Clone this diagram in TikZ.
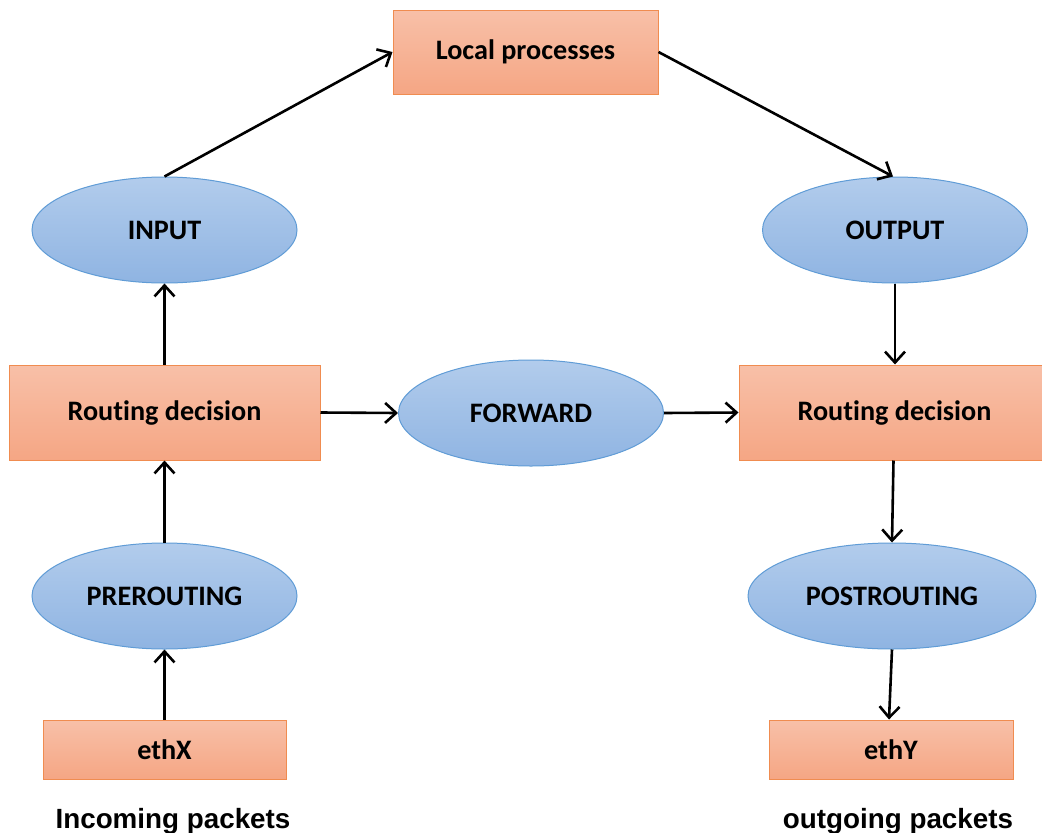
\documentclass[tikz,border=0pt]{standalone}
\usepackage{fontspec}
\setmainfont{Carlito}[Ligatures=NoCommon]
\newfontfamily\arialfont{Liberation Sans}
\usetikzlibrary{shapes.geometric,arrows.meta}
\definecolor{rtop}{RGB}{248,192,168}
\definecolor{rbot}{RGB}{245,166,132}
\definecolor{rborder}{RGB}{240,140,80}
\definecolor{etop}{RGB}{178,204,236}
\definecolor{ebot}{RGB}{143,180,226}
\definecolor{eborder}{RGB}{96,156,214}
\begin{document}
\begin{tikzpicture}[x=1pt,y=-1pt,
  boxnode/.style={rectangle, draw=rborder, line width=1pt, top color=rtop, bottom color=rbot,
    font=\fontsize{28.2}{30}\selectfont\bfseries, inner sep=0pt, text=black},
  ellnode/.style={ellipse, draw=eborder, line width=1pt, top color=etop, bottom color=ebot,
    inner sep=0pt, minimum width=265pt, minimum height=106pt,
    font=\fontsize{28.2}{30}\selectfont\bfseries, text=black},
  caption/.style={font=\arialfont\fontsize{27.8}{30}\selectfont\bfseries, anchor=base, inner sep=0pt},
  arr/.style={-{Straight Barb[length=11pt,width=20pt,line width=2.6pt]}, line width=2.6pt}]
\useasboundingbox (0,0) rectangle (1042,833);
\clip (0,0) rectangle (1042,833);
\fill[white] (0,0) rectangle (1042,833);

\node[boxnode, minimum width=265pt, minimum height=84pt] (lp) at (525.5,52) {Local processes};
\node[ellnode] (in) at (164.5,230) {INPUT};
\node[ellnode] (out) at (895,230) {OUTPUT};
\node[boxnode, minimum width=311pt, minimum height=95pt] (rl) at (164.5,412.5) {Routing decision};
\node[ellnode] (fw) at (531,413) {FORWARD};
\node[boxnode, minimum width=311pt, minimum height=95pt] (rr) at (894.5,412.5) {Routing decision};
\node[ellnode] (pre) at (164.5,596) {PREROUTING};
\node[ellnode, minimum width=288pt] (post) at (892,596) {POSTROUTING};
\node[boxnode, minimum width=243pt, minimum height=59pt] (ex) at (164.5,749.5) {ethX};
\node[boxnode, minimum width=244pt, minimum height=59pt] (ey) at (891,749.5) {ethY};
\node[caption] (inc) at (173,828) {Incoming packets};
\node[caption] (outp) at (898,828) {outgoing packets};

\draw[arr] (ex.north) -- (pre.south);
\draw[arr] (pre.north) -- (rl.south);
\draw[arr] (rl.north) -- (in.south);
\draw[arr] (in.north) -- (lp.west);
\draw[arr] (lp.east) -- ([xshift=-2pt]out.north);
\draw[arr] (out.south) -- (out.south |- rr.north);
\draw[arr] ([xshift=-1pt]rr.south) -- (post.north);
\draw[arr] (post.south) -- ([xshift=-2pt]ey.north);
\draw[arr] (rl.east) -- (fw.west);
\draw[arr] (fw.east) -- (rr.west);
\end{tikzpicture}
\end{document}
